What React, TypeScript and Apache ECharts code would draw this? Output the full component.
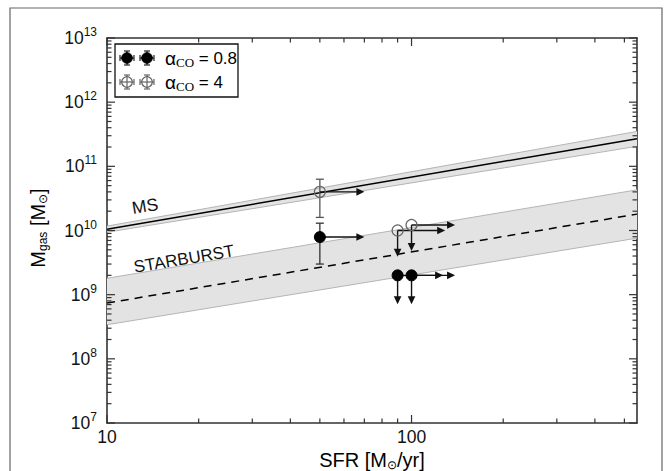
import React, { useEffect, useRef } from "react";
import * as echarts from "echarts";

// ---- axes ----
const xMin = 10;
const xMax = 550;
const yMin = 1e7;
const yMax = 1e13;
const xTickLabels = ["10", "100"];
const yTickExponents = [7, 8, 9, 10, 11, 12, 13];

// ---- relations ----
const msSFR = [10, 550];
const msMgas = [1.05e10, 2.7e11];
const msUpper = [1.17e10, 3.5e11];
const msLower = [0.94e10, 2.05e11];

const sbSFR = [10, 550];
const sbMgas = [7.4e8, 1.8e10];
const sbUpper = [1.8e9, 4.3e10];
const sbLower = [3.4e8, 7.6e9];

// ---- alpha_CO = 0.8 (filled) ----
const filledSFR = [50, 90, 100];
const filledMgas = [7.9e9, 2.0e9, 2.0e9];
const filledErrLow = [3.0e9, null, null];
const filledErrHigh = [1.3e10, null, null];
const filledDownTo = [null, 7.1e8, 7.1e8];
const filledRightTo = [70, 127, 139];

// ---- alpha_CO = 4 (open) ----
const openSFR = [50, 90, 100];
const openMgas = [4.0e10, 1.0e10, 1.22e10];
const openErrLow = [1.6e10, null, null];
const openErrHigh = [6.3e10, null, null];
const openDownTo = [null, 3.9e9, 4.8e9];
const openRightTo = [70, 129, 139];

const SANS = "Liberation Sans, Arial, sans-serif";
const SERIF = "Liberation Serif, Times New Roman, serif";

function ln(x1: number, y1: number, x2: number, y2: number, stroke: string, lw = 1.3) {
  return { type: "line", shape: { x1, y1, x2, y2 }, style: { stroke, lineWidth: lw } };
}

function bandRender(xs: number[], lo: number[], hi: number[]) {
  return (params: any, api: any) => {
    const lower = xs.map((x, i) => api.coord([x, lo[i]]));
    const upper = xs.map((x, i) => api.coord([x, hi[i]]));
    const pts = lower.concat(upper.slice().reverse());
    return {
      type: "group",
      children: [
        { type: "polygon", shape: { points: pts }, style: { fill: "#e3e3e3", stroke: "none" } },
        { type: "polyline", shape: { points: lower }, style: { stroke: "#b5b5b5", lineWidth: 1, fill: "none" } },
        { type: "polyline", shape: { points: upper }, style: { stroke: "#b5b5b5", lineWidth: 1, fill: "none" } },
      ],
    };
  };
}

function pointsRender(
  filled: boolean,
  sfr: number[],
  mgas: number[],
  errLo: (number | null)[],
  errHi: (number | null)[],
  downTo: (number | null)[],
  rightTo: (number | null)[]
) {
  return (params: any, api: any) => {
    const i = params.dataIndex;
    const [cx, cy] = api.coord([api.value(0), api.value(1)]);
    const children: any[] = [];
    const barColor = filled ? "#333" : "#555";
    const arrowColor = "#111";
    const lo = errLo[i];
    const hi = errHi[i];
    if (lo != null && hi != null) {
      const yl = api.coord([sfr[i], lo])[1];
      const yh = api.coord([sfr[i], hi])[1];
      children.push(ln(cx, yl, cx, yh, barColor, 1.3));
      children.push(ln(cx - 4, yl, cx + 4, yl, barColor, 1.3));
      children.push(ln(cx - 4, yh, cx + 4, yh, barColor, 1.3));
    }
    const rt = rightTo[i];
    if (rt != null) {
      const tx = api.coord([rt, mgas[i]])[0];
      children.push(ln(cx, cy, tx - 5, cy, arrowColor, 1.4));
      children.push({
        type: "polygon",
        shape: { points: [[tx, cy], [tx - 8, cy - 3.8], [tx - 8, cy + 3.8]] },
        style: { fill: arrowColor },
      });
    }
    const dt = downTo[i];
    if (dt != null) {
      const ty = api.coord([sfr[i], dt])[1];
      children.push(ln(cx, cy, cx, ty - 5, arrowColor, 1.4));
      children.push({
        type: "polygon",
        shape: { points: [[cx, ty], [cx - 3.8, ty - 8], [cx + 3.8, ty - 8]] },
        style: { fill: arrowColor },
      });
    }
    children.push({
      type: "circle",
      shape: { cx, cy, r: 5.5 },
      style: filled ? { fill: "#000", stroke: "#000", lineWidth: 1 } : { fill: "none", stroke: "#666", lineWidth: 1.2 },
    });
    return { type: "group", children };
  };
}

function ticksRender(params: any, api: any) {
  const cs = params.coordSys;
  const left = cs.x;
  const right = cs.x + cs.width;
  const top = cs.y;
  const bottom = cs.y + cs.height;
  const c = "#333";
  const children: any[] = [];
  const majorLen = 8;
  const minorLen = 4.5;
  for (let d = xMin; d <= xMax; d *= 10) {
    for (let m = 1; m <= 9; m++) {
      const v = m * d;
      if (v > xMax * 1.0001) break;
      const px = api.coord([v, yMin])[0];
      const L = m === 1 ? majorLen : minorLen;
      children.push(ln(px, bottom, px, bottom - L, c, 1.2));
      children.push(ln(px, top, px, top + L, c, 1.2));
    }
  }
  for (let d = yMin; d <= yMax * 1.0001; d *= 10) {
    for (let m = 1; m <= 9; m++) {
      const v = m * d;
      if (v > yMax * 1.0001) break;
      const py = api.coord([xMin, v])[1];
      const L = m === 1 ? majorLen : minorLen;
      children.push(ln(left, py, left + L, py, c, 1.2));
      children.push(ln(right, py, right - L, py, c, 1.2));
    }
  }
  return { type: "group", children };
}

function legendSymbol(x: number, y: number, filled: boolean) {
  const c = filled ? "#222" : "#666";
  return [
    ln(x - 7, y, x + 7, y, c, 1.2),
    ln(x - 7, y - 3, x - 7, y + 3, c, 1.2),
    ln(x + 7, y - 3, x + 7, y + 3, c, 1.2),
    ln(x, y - 7, x, y + 7, c, 1.2),
    ln(x - 3, y - 7, x + 3, y - 7, c, 1.2),
    ln(x - 3, y + 7, x + 3, y + 7, c, 1.2),
    {
      type: "circle",
      shape: { cx: x, cy: y, r: 5.3 },
      style: filled ? { fill: "#000", stroke: "#000" } : { fill: "none", stroke: "#666", lineWidth: 1.2 },
    },
  ];
}

const legendRich = {
  a: { fontSize: 19, fontFamily: SANS, color: "#111", lineHeight: 22 },
  s: { fontSize: 13, fontFamily: SERIF, color: "#111", verticalAlign: "bottom", lineHeight: 14 },
  b: { fontSize: 17, fontFamily: SANS, color: "#111", lineHeight: 22 },
};

const nameRich = {
  m: { fontSize: 20, fontFamily: SANS, color: "#111", lineHeight: 22 },
  s: { fontSize: 12, fontFamily: SANS, color: "#111", verticalAlign: "bottom", lineHeight: 12 },
};

export default function App() {
  const ref = useRef<HTMLDivElement>(null);
  useEffect(() => {
    const chart = echarts.init(ref.current!, null, { renderer: "svg" });
    const axisLineStyle = { color: "#333", width: 1.6 };
    const xLabelFormatter = (v: number) => {
      const e = Math.log10(v);
      const r = Math.round(e);
      if (Math.abs(e - r) > 1e-6) return "";
      const s = String(Math.round(Math.pow(10, r)));
      return xTickLabels.indexOf(s) >= 0 ? s : "";
    };
    const yLabelFormatter = (v: number) => {
      const e = Math.round(Math.log10(v));
      if (Math.abs(Math.log10(v) - e) > 1e-6) return "";
      if (yTickExponents.indexOf(e) < 0) return "";
      return `{b|10}{s|${e}}`;
    };
    const option: any = {
      animation: false,
      backgroundColor: "#fff",
      grid: { left: 107, top: 38, right: 29, bottom: 48, containLabel: false },
      xAxis: [
        {
          type: "log",
          logBase: 10,
          min: xMin,
          max: xMax,
          position: "bottom",
          axisLine: { show: true, onZero: false, lineStyle: axisLineStyle },
          axisTick: { show: false },
          splitLine: { show: false },
          axisLabel: { formatter: xLabelFormatter, fontSize: 17.5, fontFamily: SANS, color: "#111", margin: 5, lineHeight: 18 },
        },
        {
          type: "log",
          logBase: 10,
          min: xMin,
          max: xMax,
          position: "top",
          axisLine: { show: true, onZero: false, lineStyle: axisLineStyle },
          axisTick: { show: false },
          splitLine: { show: false },
          axisLabel: { show: false },
        },
      ],
      yAxis: [
        {
          type: "log",
          logBase: 10,
          min: yMin,
          max: yMax,
          position: "left",
          axisLine: { show: true, onZero: false, lineStyle: axisLineStyle },
          axisTick: { show: false },
          splitLine: { show: false },
          axisLabel: {
            formatter: yLabelFormatter,
            margin: 10,
            rich: {
              b: { fontSize: 17.5, fontFamily: SANS, color: "#111", lineHeight: 24 },
              s: { fontSize: 12, fontFamily: SANS, color: "#111", verticalAlign: "top", lineHeight: 12 },
            },
          },
        },
        {
          type: "log",
          logBase: 10,
          min: yMin,
          max: yMax,
          position: "right",
          axisLine: { show: true, onZero: false, lineStyle: axisLineStyle },
          axisTick: { show: false },
          splitLine: { show: false },
          axisLabel: { show: false },
        },
      ],
      series: [
        {
          type: "custom",
          name: "SB band",
          silent: true,
          renderItem: bandRender(sbSFR, sbLower, sbUpper),
          data: [[sbSFR[0], sbMgas[0]]],
          z: 1,
        },
        {
          type: "custom",
          name: "MS band",
          silent: true,
          renderItem: bandRender(msSFR, msLower, msUpper),
          data: [[msSFR[0], msMgas[0]]],
          z: 1,
        },
        {
          type: "line",
          name: "MS",
          data: msSFR.map((x, i) => [x, msMgas[i]]),
          showSymbol: false,
          silent: true,
          lineStyle: { color: "#000", width: 1.5 },
          z: 2,
        },
        {
          type: "line",
          name: "STARBURST",
          data: sbSFR.map((x, i) => [x, sbMgas[i]]),
          showSymbol: false,
          silent: true,
          lineStyle: { color: "#000", width: 1.5, type: [8, 6] },
          z: 2,
        },
        {
          type: "custom",
          name: "ticks",
          silent: true,
          renderItem: ticksRender,
          data: [[xMin, yMin]],
          z: 3,
        },
        {
          type: "custom",
          name: "alphaCO 4",
          silent: true,
          renderItem: pointsRender(false, openSFR, openMgas, openErrLow, openErrHigh, openDownTo, openRightTo),
          data: openSFR.map((x, i) => [x, openMgas[i]]),
          z: 4,
        },
        {
          type: "custom",
          name: "alphaCO 0.8",
          silent: true,
          renderItem: pointsRender(true, filledSFR, filledMgas, filledErrLow, filledErrHigh, filledDownTo, filledRightTo),
          data: filledSFR.map((x, i) => [x, filledMgas[i]]),
          z: 5,
        },
      ],
      graphic: [
        {
          type: "rect",
          shape: { x: 10, y: 8, width: 652, height: 500 },
          style: { fill: "none", stroke: "#666", lineWidth: 1.2 },
          silent: true,
          z: 0,
        },
        {
          type: "text",
          x: 145,
          y: 206,
          rotation: 0.165,
          style: { text: "MS", fontSize: 17.5, fontFamily: SANS, fill: "#111", align: "center", verticalAlign: "middle" },
          z: 10,
        },
        {
          type: "text",
          x: 184,
          y: 259,
          rotation: 0.165,
          style: { text: "STARBURST", fontSize: 17, fontFamily: SANS, fill: "#111", align: "center", verticalAlign: "middle" },
          z: 10,
        },
        {
          type: "group",
          z: 20,
          children: [
            {
              type: "rect",
              shape: { x: 115, y: 44, width: 123, height: 53 },
              style: { fill: "#fff", stroke: "#111", lineWidth: 1.3 },
            },
            ...legendSymbol(127, 58, true),
            ...legendSymbol(147, 58, true),
            ...legendSymbol(127, 82, false),
            ...legendSymbol(147, 82, false),
            {
              type: "text",
              x: 165,
              y: 58,
              style: { text: "{a|α}{s|CO}{b| = 0.8}", rich: legendRich, align: "left", verticalAlign: "middle" },
            },
            {
              type: "text",
              x: 165,
              y: 82,
              style: { text: "{a|α}{s|CO}{b| = 4}", rich: legendRich, align: "left", verticalAlign: "middle" },
            },
          ],
        },
        {
          type: "text",
          x: 38,
          y: 228,
          rotation: Math.PI / 2,
          style: { text: "{m|M}{s|gas}{m| [M}{s|⊙}{m|]}", rich: nameRich, align: "center", verticalAlign: "middle" },
          z: 10,
        },
        {
          type: "text",
          x: 372,
          y: 460,
          style: { text: "{m|SFR [M}{s|⊙}{m|/yr]}", rich: nameRich, align: "center", verticalAlign: "middle" },
          z: 10,
        },
      ],
    };
    chart.setOption(option);
    return () => chart.dispose();
  }, []);
  return (
    <div
      ref={ref}
      style={{ position: "fixed", left: 0, top: 0, width: 666, height: 471, background: "#fff" }}
    />
  );
}
